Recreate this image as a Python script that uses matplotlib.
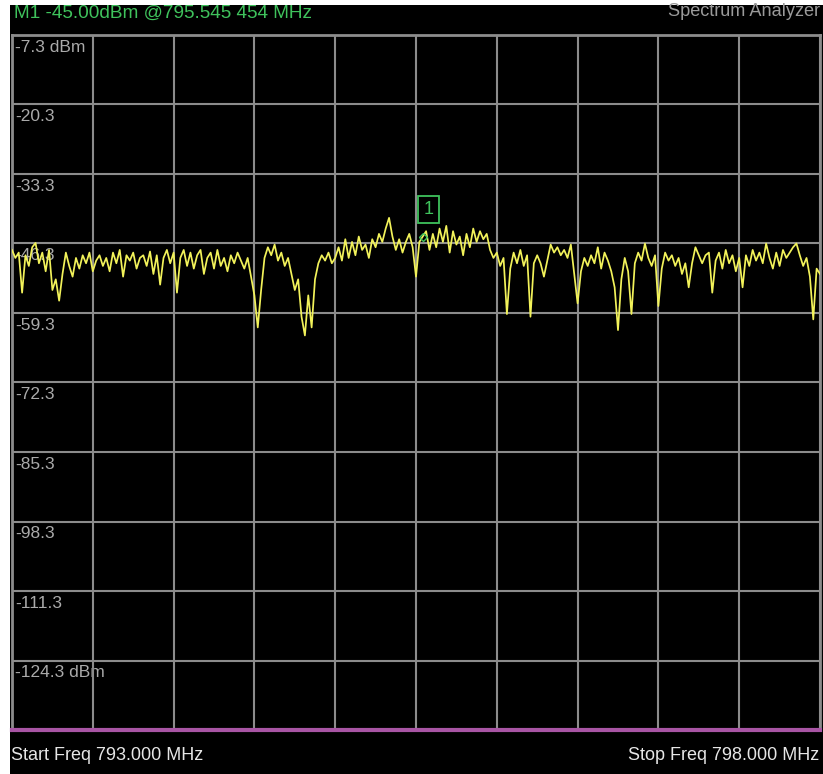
import matplotlib
matplotlib.use("Agg")
import matplotlib.pyplot as plt
import numpy as np
from matplotlib.patches import Rectangle
from matplotlib.transforms import blended_transform_factory

#==============================================================================#
# sweep settings
f_start, f_stop = 793.0, 798.0            # MHz
ref_level = -7.3                          # dBm at top line
db_per_div = 13.0
n_div = 10

# marker 1
m1_freq = 795.545454
m1_level = -45.00

# trace, dBm, evenly spaced from start to stop freq
trace_dbm = [
    -47.5, -49.0, -48.0, -55.5, -48.5, -50.5, -47.0, -46.2, -50.0, -48.0,
    -51.5, -47.5, -55.0, -53.0, -57.0, -52.0, -48.0, -50.5, -52.5, -49.0,
    -51.0, -48.5, -50.0, -48.0, -51.5, -49.5, -48.5, -50.5, -49.0, -51.5,
    -48.0, -50.0, -47.5, -52.5, -48.5, -49.5, -48.0, -51.0, -49.0, -48.5,
    -50.5, -47.8, -52.0, -48.5, -54.0, -49.0, -47.5, -50.0, -48.0, -55.5,
    -49.0, -47.5, -50.5, -48.0, -51.0, -48.5, -47.5, -52.0, -49.0, -48.0,
    -51.0, -47.5, -50.5, -49.0, -51.5, -48.5, -50.0, -48.0, -49.5, -51.0,
    -49.0, -52.5, -56.0, -62.0, -55.0, -49.0, -47.0, -48.5, -46.5, -49.5,
    -48.0, -50.5, -49.0, -52.0, -55.0, -53.0, -60.0, -63.5, -56.0, -62.0,
    -53.0, -50.0, -48.5, -49.5, -48.0, -50.0, -49.0, -47.0, -49.5, -45.5,
    -49.0, -46.0, -48.5, -45.0, -47.5, -46.5, -49.0, -45.5, -47.0, -44.5,
    -46.0, -43.5, -41.5, -45.0, -47.5, -45.5, -48.0, -46.0, -44.5, -47.0,
    -52.5, -46.0, -45.0, -44.0, -47.5, -44.5, -47.0, -43.5, -46.0, -43.0,
    -48.0, -44.0, -46.5, -45.0, -48.5, -44.5, -47.0, -43.5, -46.0, -44.0,
    -45.5, -44.5, -47.5, -49.0, -48.0, -50.5, -49.0, -59.5, -51.0, -48.0,
    -50.0, -47.5, -50.5, -48.5, -60.0, -50.0, -48.5, -50.0, -52.5, -49.5,
    -46.5, -48.0, -47.0, -48.5, -47.5, -49.0, -46.5, -52.0, -57.5, -51.5,
    -49.0, -50.5, -48.5, -50.0, -47.0, -51.0, -48.0, -49.5, -51.5, -54.5,
    -62.5, -53.0, -49.0, -51.5, -59.5, -50.0, -48.0, -49.5, -46.3, -49.0,
    -50.5, -48.5, -58.0, -51.0, -48.0, -49.5, -48.5, -50.5, -49.0, -52.0,
    -50.0, -54.5, -50.0, -47.0, -48.5, -50.0, -48.5, -48.0, -55.5, -49.5,
    -48.0, -51.0, -47.5, -50.0, -48.5, -51.5, -49.0, -54.5, -48.5, -50.5,
    -47.5, -49.5, -48.0, -50.0, -46.3, -49.0, -51.0, -48.0, -50.5, -47.5,
    -49.0, -48.0, -47.0, -46.3, -48.5, -50.5, -49.0, -52.5, -60.5, -51.0,
    -52.0,
]

#==============================================================================#
W, H = 823, 774
green = '#3fc25c'
yellow = '#f2f25a'
grid_col = '#8c8c8c'
magenta = '#a855a4'
font = ['Liberation Sans', 'DejaVu Sans']

fig = plt.figure(figsize=(W / 100, H / 100), dpi=100, facecolor='white')

# black instrument screen, kept behind the axes
fig.patches.append(Rectangle((10 / W, 0), 1 - 10 / W, 1 - 5 / H,
                             transform=fig.transFigure, fc='black', ec='none', zorder=-10))

ax = fig.add_axes([12 / W, 1 - 730 / H, (820 - 12) / W, (730 - 35) / H])
ax.set_zorder(1)
ax.set_facecolor('black')

bottom = ref_level - n_div * db_per_div
ax.set_xlim(f_start, f_stop)
ax.set_ylim(bottom, ref_level)

yt = [ref_level - k * db_per_div for k in range(n_div + 1)]
ax.set_xticks(np.linspace(f_start, f_stop, n_div + 1))
ax.set_yticks(yt)
ax.tick_params(length=0, labelbottom=False, labelleft=False)
ax.grid(True, color=grid_col, lw=1.5)
for side in ['top', 'left', 'right']:
    ax.spines[side].set_color(grid_col)
    ax.spines[side].set_linewidth(2)
ax.spines['bottom'].set_color(magenta)
ax.spines['bottom'].set_linewidth(3)

# amplitude labels sit just under each graticule line
tr = blended_transform_factory(ax.transAxes, ax.transData)
for k, lvl in enumerate(yt[:-1]):
    lab = '%.1f' % lvl
    if k == 0 or k == n_div - 1:
        lab += ' dBm'
    ax.text(3 / (820 - 12), lvl - 0.9, lab, transform=tr, ha='left', va='top',
            color='#aaaaaa', fontsize=12.5, family=font, zorder=1)

freqs = np.linspace(f_start, f_stop, len(trace_dbm))
ax.plot(freqs, trace_dbm, color=yellow, lw=1.25, zorder=3)

# marker 1
ax.plot([m1_freq], [m1_level], marker='D', ms=4, mfc='none', mec=green, mew=1, zorder=4)
ax.annotate('1', xy=(m1_freq, m1_level), xytext=(3.5, 19.5), textcoords='offset points',
            ha='center', va='center', color=green, fontsize=13, family=font, zorder=5,
            bbox=dict(boxstyle='square,pad=0.3', fc='black', ec=green, lw=1.3))

# header and footer annotations
fig.text(14 / W, 1 - 13 / H, 'M1 -45.00dBm @795.545 454 MHz', color=green,
         fontsize=13.7, family=font, ha='left', va='center')
fig.text(668 / W, 1 - 12 / H, 'Spectrum Analyzer', color='#9a9a9a',
         fontsize=13.1, family=font, ha='left', va='center')
fig.text(11 / W, 1 - 755 / H, 'Start Freq 793.000 MHz', color='#e6e6e6',
         fontsize=13, family=font, ha='left', va='center')
fig.text(628 / W, 1 - 755 / H, 'Stop Freq 798.000 MHz', color='#e6e6e6',
         fontsize=13, family=font, ha='left', va='center')

fig.savefig('out.png', dpi=100, facecolor=fig.get_facecolor())
